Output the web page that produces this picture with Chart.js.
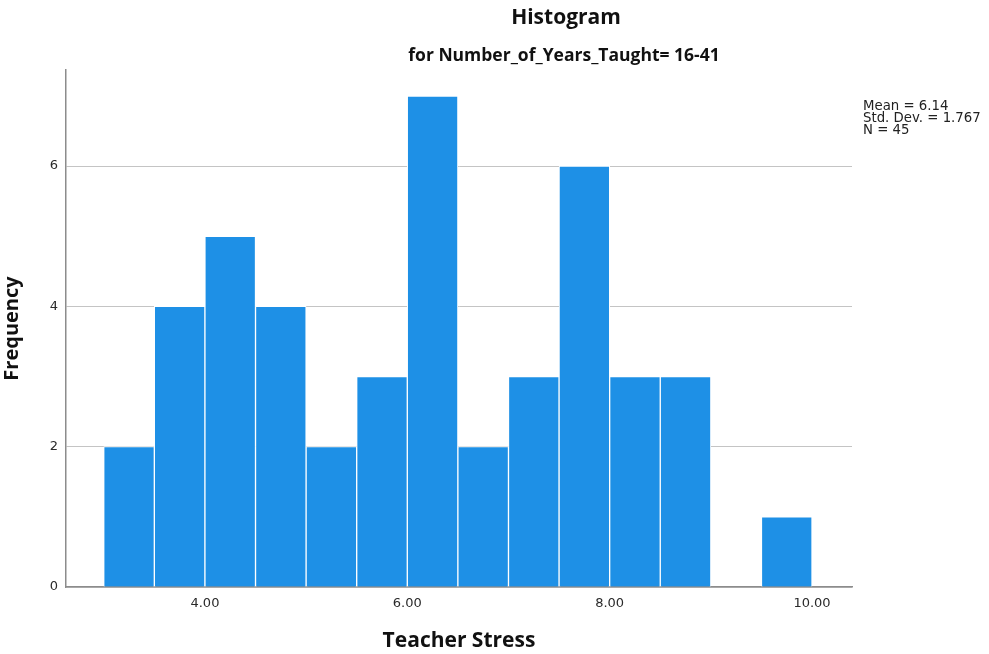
<!DOCTYPE html>
<html>
<head>
<meta charset="utf-8">
<script src="https://cdn.jsdelivr.net/npm/chart.js@4.4.1/dist/chart.umd.min.js"></script>
<style>
  html, body { margin: 0; padding: 0; background: #fff; }
  canvas { display: block; }
</style>
</head>
<body>
<canvas id="grafica" width="989" height="654"></canvas>
<script>
// bins of 0.5 from 3.0 to 10.0 (centres)
const binCentres = [3.25, 3.75, 4.25, 4.75, 5.25, 5.75, 6.25, 6.75, 7.25, 7.75, 8.25, 8.75, 9.25, 9.75];
const frequencies = [2, 4, 5, 4, 2, 3, 7, 2, 3, 6, 3, 3, 0, 1];
const xTicks = [4, 6, 8, 10];
const yTicks = [0, 2, 4, 6];
const statsLines = ["Mean = 6.14", "Std. Dev. = 1.767", "N = 45"];

const tituloPrincipal = "Histogram";
const subtitulo = "for Number_of_Years_Taught= 16-41";

// texts drawn by hand (titles + stats box)
const textosPlugin = {
  id: 'textos',
  afterDraw(chart) {
    const ctx = chart.ctx;
    ctx.save();
    ctx.fillStyle = '#111';
    ctx.textAlign = 'center';
    ctx.textBaseline = 'middle';
    ctx.font = 'bold 21px "Open Sans", sans-serif';
    ctx.fillText(tituloPrincipal, 566, 18);
    ctx.font = 'bold 17.5px "Open Sans", sans-serif';
    ctx.fillText(subtitulo, 564, 56);

    ctx.textAlign = 'left';
    ctx.textBaseline = 'alphabetic';
    ctx.fillStyle = '#222';
    ctx.font = '13.3px "DejaVu Sans", sans-serif';
    statsLines.forEach((t, i) => ctx.fillText(t, 863, 110 + i * 12));
    ctx.restore();
  }
};

new Chart(document.getElementById('grafica'), {
  type: 'bar',
  data: {
    datasets: [{
      data: binCentres.map((c, i) => ({ x: c, y: frequencies[i] })),
      backgroundColor: '#1e90e6',
      borderColor: '#ffffff',
      borderWidth: 1,
      barPercentage: 1,
      categoryPercentage: 1
    }]
  },
  options: {
    responsive: false,
    animation: false,
    devicePixelRatio: 1,
    layout: { padding: { top: 70, right: 137, left: 0, bottom: 0 } },
    plugins: {
      legend: { display: false },
      tooltip: { enabled: false }
    },
    scales: {
      x: {
        type: 'linear',
        offset: false,
        min: 2.627,
        max: 10.395,
        afterBuildTicks: s => { s.ticks = xTicks.map(v => ({ value: v })); },
        afterFit: s => { s.height = 67; },
        grid: { display: false, drawTicks: false },
        border: { color: '#8c8c8c', width: 1.5 },
        ticks: {
          padding: 9,
          color: '#2a2a2a',
          font: { family: '"DejaVu Sans", sans-serif', size: 13 },
          callback: v => Number(v).toFixed(2),
          maxRotation: 0
        },
        title: {
          display: true,
          text: 'Teacher Stress',
          color: '#111',
          font: { family: '"Open Sans", sans-serif', size: 21, weight: 'bold' },
          padding: { top: 0, bottom: 0 }
        }
      },
      y: {
        min: 0,
        max: 7.37,
        afterBuildTicks: s => { s.ticks = yTicks.map(v => ({ value: v })); },
        afterFit: s => { s.width = 66; },
        grid: { color: '#c4c4c4', lineWidth: 1, drawTicks: false },
        border: { color: '#8c8c8c', width: 1.5 },
        ticks: {
          padding: 8,
          color: '#2a2a2a',
          font: { family: '"DejaVu Sans", sans-serif', size: 13 }
        },
        title: {
          display: true,
          text: 'Frequency',
          color: '#111',
          font: { family: '"Open Sans", sans-serif', size: 20, weight: 'bold' },
          padding: { top: 0, bottom: 0 }
        }
      }
    }
  },
  plugins: [textosPlugin]
});
</script>
</body>
</html>
